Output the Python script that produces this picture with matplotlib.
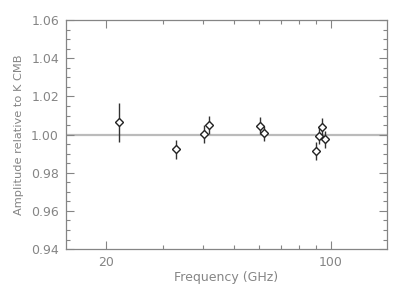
import numpy as np
import matplotlib.pyplot as plt
from matplotlib.ticker import FixedLocator, MultipleLocator, NullFormatter

freqs = [22.0, 33.1, 40.5, 41.7, 60.3, 62.1, 89.9, 91.9, 94.2, 96.0]
amps = [1.0064, 0.9922, 1.0001, 1.0050, 1.0046, 1.0006, 0.9914, 0.9994, 1.0038, 0.9976]
errs = [0.0102, 0.0050, 0.0047, 0.0047, 0.0044, 0.0040, 0.0046, 0.0045, 0.0047, 0.0044]

grey = '#858585'
plt.rcParams['font.family'] = 'DejaVu Sans'
plt.rcParams['font.size'] = 9

fig = plt.figure(figsize=(4.07, 2.91), dpi=100)
ax = fig.add_axes([0.162, 0.144, 0.789, 0.787])

ax.axhline(1.0, color='#bbbbbb', lw=1.6, zorder=1)
ax.errorbar(freqs, amps, yerr=errs, fmt='D', color='#222222', ecolor='#333333',
            elinewidth=1.0, capsize=0, markersize=3.6, markerfacecolor='white',
            markeredgewidth=1.0, zorder=3)

ax.set_xscale('log')
ax.set_xlim(15, 150)
ax.set_ylim(0.94, 1.06)
ax.xaxis.set_major_locator(FixedLocator([20, 100]))
ax.xaxis.set_minor_locator(FixedLocator([30, 40, 50, 60, 70, 80, 90]))
ax.xaxis.set_minor_formatter(NullFormatter())
ax.set_xticklabels(['20', '100'])
ax.yaxis.set_major_locator(MultipleLocator(0.02))
ax.yaxis.set_minor_locator(MultipleLocator(0.005))
ax.yaxis.set_major_formatter(plt.FuncFormatter(lambda v, p: '%.2f' % v))

ax.tick_params(which='both', direction='in', top=True, right=True,
               colors=grey, labelcolor=grey, width=0.8)
ax.tick_params(which='major', length=6, pad=5)
ax.tick_params(which='minor', length=3)
for s in ax.spines.values():
    s.set_color(grey)
    s.set_linewidth(0.9)

ax.set_xlabel('Frequency (GHz)', color=grey)
ax.xaxis.set_label_coords(0.5, -0.095)
ax.set_ylabel('Amplitude relative to K CMB', color=grey, fontsize=8.2)
ax.yaxis.set_label_coords(-0.13, 0.5)

fig.savefig('out.png', dpi=100)
